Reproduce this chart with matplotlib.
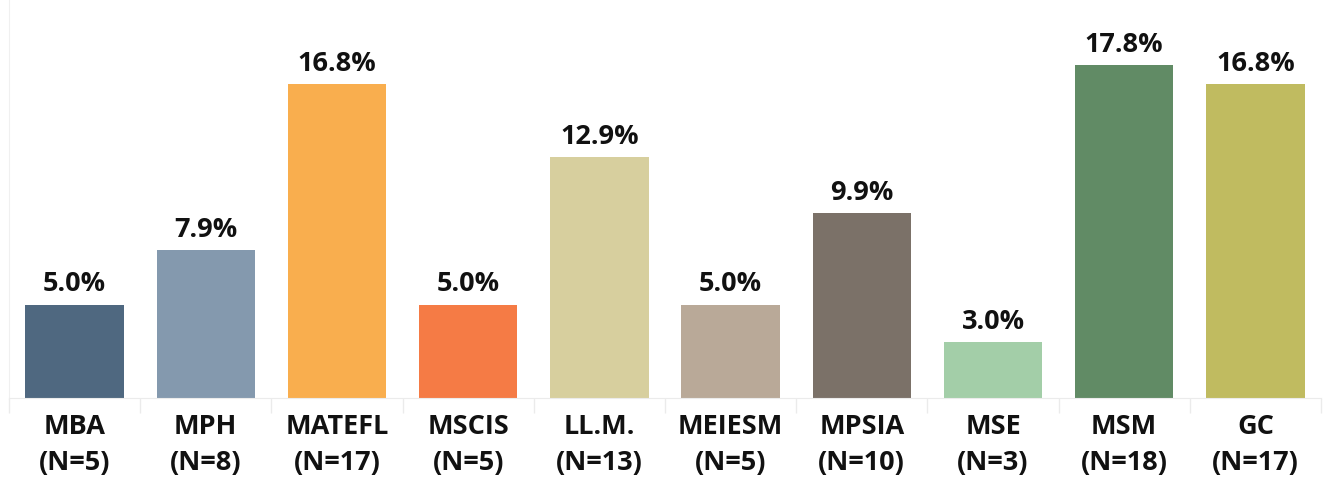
"""Bar chart of share per programme."""
import matplotlib.pyplot as plt
import numpy as np

programs = ["MBA", "MPH", "MATEFL", "MSCIS", "LL.M.", "MEIESM", "MPSIA", "MSE", "MSM", "GC"]
counts = [5, 8, 17, 5, 13, 5, 10, 3, 18, 17]
shares = [5.0, 7.9, 16.8, 5.0, 12.9, 5.0, 9.9, 3.0, 17.8, 16.8]
colors = ["#4F6880", "#8499AE", "#F9AE4E", "#F57B45", "#D7CF9E",
          "#B9A998", "#7B7168", "#A3CEA8", "#618B65", "#C0BB60"]

plt.rcParams["font.family"] = ["Open Sans", "DejaVu Sans"]

fig = plt.figure(figsize=(13.24, 4.89), dpi=100)
ax = fig.add_axes([9 / 1324, 90 / 489, 1312 / 1324, 399 / 489])

x = np.arange(len(programs))
bars = ax.bar(x, shares, width=0.75, color=colors)

for b, v in zip(bars, shares):
    ax.text(b.get_x() + b.get_width() / 2, v + 0.45, f"{v:.1f}%",
            ha="center", va="bottom", fontsize=19.5, fontweight="bold", color="#111111")

ax.set_xlim(-0.5, len(programs) - 0.5)
ax.set_ylim(0, 21.35)
ax.set_yticks([])

ax.set_xticks(x)
ax.set_xticklabels([f"{p}\n(N={n})" for p, n in zip(programs, counts)],
                   fontsize=19.5, fontweight="bold", color="#111111", linespacing=1.5)
ax.tick_params(axis="x", which="major", length=0, pad=11)
ax.set_xticks(np.arange(-0.5, len(programs)), minor=True)
ax.tick_params(axis="x", which="minor", length=11, color="#EBEBEB", width=1)

for s in ["top", "right"]:
    ax.spines[s].set_visible(False)
ax.spines["left"].set_color("#F0F0F0")
ax.spines["bottom"].set_color("#EBEBEB")

fig.savefig("out.png", dpi=100)
plt.close(fig)
